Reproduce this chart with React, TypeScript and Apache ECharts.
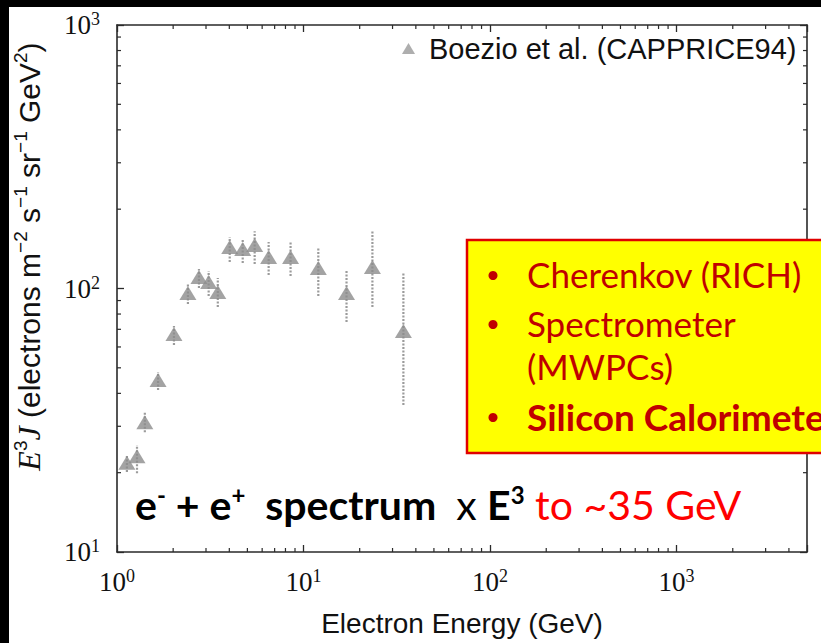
import React, { useEffect, useRef } from 'react';
import * as echarts from 'echarts';

// CAPRICE94 (Boezio et al.) electron spectrum x E^3
const energies = [1.13, 1.28, 1.41, 1.66, 2.02, 2.40, 2.75, 3.10, 3.47, 4.02, 4.72, 5.47, 6.50, 8.52, 12.0, 17.0, 23.4, 34.3];
const fluxValues = [21.8, 23.1, 31.1, 45.0, 67.2, 96.2, 110.6, 105.8, 97.0, 143.7, 141.3, 146.3, 131.7, 131.7, 119.6, 96.2, 120.6, 69.0];
const errLow = [20.1, 19.9, 28.5, 41.2, 61.0, 87.3, 100.4, 93.7, 85.1, 126.1, 125.0, 124.0, 112.5, 111.5, 93.7, 74.7, 85.1, 36.1];
const errHigh = [23.3, 25.5, 34.0, 48.2, 72.1, 105.0, 118.6, 116.5, 109.6, 156.8, 154.0, 165.0, 150.0, 150.0, 142.5, 117.5, 165.0, 114.5];

const seriesName = 'Boezio et al. (CAPPRICE94)';
const xTickExponents = ['0', '1', '2', '3'];
const yTickExponents = ['1', '2', '3'];
const xMinorTicks = [2, 3, 4, 5, 6, 7, 8, 9, 20, 30, 40, 50, 60, 70, 80, 90, 200, 300, 400, 500, 600, 700, 800, 900, 2000, 3000, 4000];
const yMinorTicks = [20, 30, 40, 50, 60, 70, 80, 90, 200, 300, 400, 500, 600, 700, 800, 900];
const boxLines = ['Cherenkov (RICH)', 'Spectrometer', '(MWPCs)', 'Silicon Calorimeter'];

const X_MIN = 1, X_MAX = 5000, Y_MIN = 10, Y_MAX = 1000;
const AXIS_COLOR = '#2a2a2a';

function powLabel(exps: string[]) {
  return (v: number) => {
    const e = Math.log10(v);
    const r = Math.round(e);
    if (Math.abs(e - r) > 1e-6) return '';
    const s = String(r);
    if (exps.indexOf(s) < 0) return '';
    return `{b|10}{s|${s}}`;
  };
}

const labelRich = {
  b: { fontFamily: 'Liberation Serif', fontSize: 27, lineHeight: 30, color: '#111' },
  s: { fontFamily: 'Liberation Serif', fontSize: 18, lineHeight: 18, verticalAlign: 'top', color: '#111' },
};

export default function App() {
  const ref = useRef<HTMLDivElement>(null);
  useEffect(() => {
    document.body.style.margin = '0';
    document.body.style.background = '#ffffff';
    const chart = echarts.init(ref.current!, null, { renderer: 'svg' });

    const commonAxisLine = { show: true, lineStyle: { color: AXIS_COLOR, width: 1.6 } };
    const commonTick = { show: true, inside: true, length: 7, lineStyle: { color: AXIS_COLOR, width: 1.3 } };

    const minorTickStyle = { stroke: AXIS_COLOR, lineWidth: 1.2 };

    const option: any = {
      animation: false,
      backgroundColor: '#ffffff',
      grid: { left: 117, top: 25, right: 14, bottom: 91, outerBoundsMode: 'none' },
      legend: {
        left: 397,
        top: 29,
        icon: 'triangle',
        itemWidth: 13,
        itemHeight: 11,
        textStyle: { fontFamily: 'Liberation Sans', fontSize: 29, color: '#111', padding: [0, 0, 0, 9] },
        data: [{ name: seriesName, itemStyle: { color: '#9a9a9a' } }],
        selectedMode: false,
      },
      xAxis: [
        {
          type: 'log', logBase: 10, min: X_MIN, max: X_MAX, position: 'bottom',
          axisLine: commonAxisLine, axisTick: commonTick, splitLine: { show: false },
          axisLabel: { margin: 15, formatter: powLabel(xTickExponents), rich: labelRich },
          name: 'Electron Energy (GeV)', nameLocation: 'middle', nameGap: 57,
          nameTextStyle: { fontFamily: 'Liberation Sans', fontSize: 28, color: '#111' },
        },
        {
          type: 'log', logBase: 10, min: X_MIN, max: X_MAX, position: 'top',
          axisLine: commonAxisLine, axisTick: commonTick, splitLine: { show: false },
          axisLabel: { show: false },
        },
      ],
      yAxis: [
        {
          type: 'log', logBase: 10, min: Y_MIN, max: Y_MAX, position: 'left',
          axisLine: commonAxisLine, axisTick: commonTick, splitLine: { show: false },
          axisLabel: { margin: 17, formatter: powLabel(yTickExponents), rich: labelRich },
          name: '{i|E}{s|3}{i|J} (electrons m{s|−2} s{s|−1} sr{s|−1} GeV{s|2})',
          nameLocation: 'middle', nameGap: 70,
          nameTextStyle: {
            fontFamily: 'Liberation Sans', fontSize: 30, lineHeight: 36, color: '#111', padding: [0, 0, 0, 64],
            rich: {
              i: { fontFamily: 'Liberation Serif', fontStyle: 'italic', fontSize: 32, lineHeight: 36, color: '#111' },
              s: { fontFamily: 'Liberation Sans', fontSize: 19, lineHeight: 19, verticalAlign: 'top', color: '#111' },
            },
          },
        },
        {
          type: 'log', logBase: 10, min: Y_MIN, max: Y_MAX, position: 'right',
          axisLine: commonAxisLine, axisTick: commonTick, splitLine: { show: false },
          axisLabel: { show: false },
        },
      ],
      series: [
        {
          type: 'custom', name: 'xminor', silent: true, z: 4,
          data: xMinorTicks.map((v) => [v, Y_MIN]),
          renderItem: (params: any, api: any) => {
            const v = api.value(0);
            const b = api.coord([v, Y_MIN]);
            const t = api.coord([v, Y_MAX]);
            return {
              type: 'group', children: [
                { type: 'line', shape: { x1: b[0], y1: b[1], x2: b[0], y2: b[1] - 4 }, style: minorTickStyle },
                { type: 'line', shape: { x1: t[0], y1: t[1], x2: t[0], y2: t[1] + 4 }, style: minorTickStyle },
              ],
            };
          },
        },
        {
          type: 'custom', name: 'yminor', silent: true, z: 4,
          data: yMinorTicks.map((v) => [X_MIN, v]),
          renderItem: (params: any, api: any) => {
            const v = api.value(1);
            const l = api.coord([X_MIN, v]);
            const r = api.coord([X_MAX, v]);
            return {
              type: 'group', children: [
                { type: 'line', shape: { x1: l[0], y1: l[1], x2: l[0] + 4, y2: l[1] }, style: minorTickStyle },
                { type: 'line', shape: { x1: r[0], y1: r[1], x2: r[0] - 4, y2: r[1] }, style: minorTickStyle },
              ],
            };
          },
        },
        {
          type: 'custom', name: 'errors', silent: true, z: 3,
          data: energies.map((e, i) => [e, errLow[i], errHigh[i]]),
          encode: { x: 0, y: [1, 2] },
          renderItem: (params: any, api: any) => {
            const x = api.value(0);
            const lo = api.coord([x, api.value(1)]);
            const hi = api.coord([x, api.value(2)]);
            return {
              type: 'line',
              shape: { x1: lo[0], y1: lo[1], x2: hi[0], y2: hi[1] },
              style: { stroke: '#9b9b9b', lineWidth: 2.2, lineDash: [2, 1.5] },
            };
          },
        },
        {
          type: 'scatter', name: seriesName, z: 6,
          symbol: 'triangle', symbolSize: [17, 14],
          itemStyle: { color: '#8c8c8c' },
          data: energies.map((e, i) => [e, fluxValues[i]]),
        },
      ],
      graphic: [
        { type: 'rect', z: 100, shape: { x: 0, y: 0, width: 821, height: 7 }, style: { fill: '#000' } },
        { type: 'rect', z: 100, shape: { x: 0, y: 0, width: 9, height: 643 }, style: { fill: '#000' } },
        {
          type: 'rect', z: 50, shape: { x: 467, y: 240, width: 380, height: 213 },
          style: { fill: '#ffff00', stroke: '#e00000', lineWidth: 2.5 },
        },
        ...[275.5, 324.5, 417.5].map((cy) => ({
          type: 'circle', z: 51, shape: { cx: 493, cy, r: 4.5 }, style: { fill: '#c00000' },
        })),
        ...boxLines.map((t, i) => ({
          type: 'text', z: 51, x: 527, y: [274, 323, 366, 416][i],
          style: {
            text: t, fill: '#c00000', fontFamily: 'Lato', fontSize: i === 3 ? 37 : 35,
            fontWeight: i === 3 ? 'bold' : 'normal', verticalAlign: 'middle', align: 'left',
          },
        })),
        {
          type: 'text', z: 51, x: 135, y: 504,
          style: {
            text: '{b|e}{sb|-}{b| + e}{sb|+}{b|  spectrum  }{n|x }{b|E}{sb|3}{r| to ~35 GeV}',
            verticalAlign: 'middle', align: 'left',
            rich: {
              b: { fontFamily: 'Lato', fontWeight: 'bold', fontSize: 41, lineHeight: 44, fill: '#000' },
              sb: { fontFamily: 'Lato', fontWeight: 'bold', fontSize: 24, lineHeight: 24, verticalAlign: 'top', fill: '#000' },
              n: { fontFamily: 'Lato', fontSize: 41, lineHeight: 44, fill: '#000' },
              r: { fontFamily: 'Lato', fontSize: 41, lineHeight: 44, fill: '#ff0000' },
            },
          },
        },
      ],
    };
    chart.setOption(option);
    return () => chart.dispose();
  }, []);
  return <div ref={ref} style={{ width: 821, height: 643 }} />;
}
